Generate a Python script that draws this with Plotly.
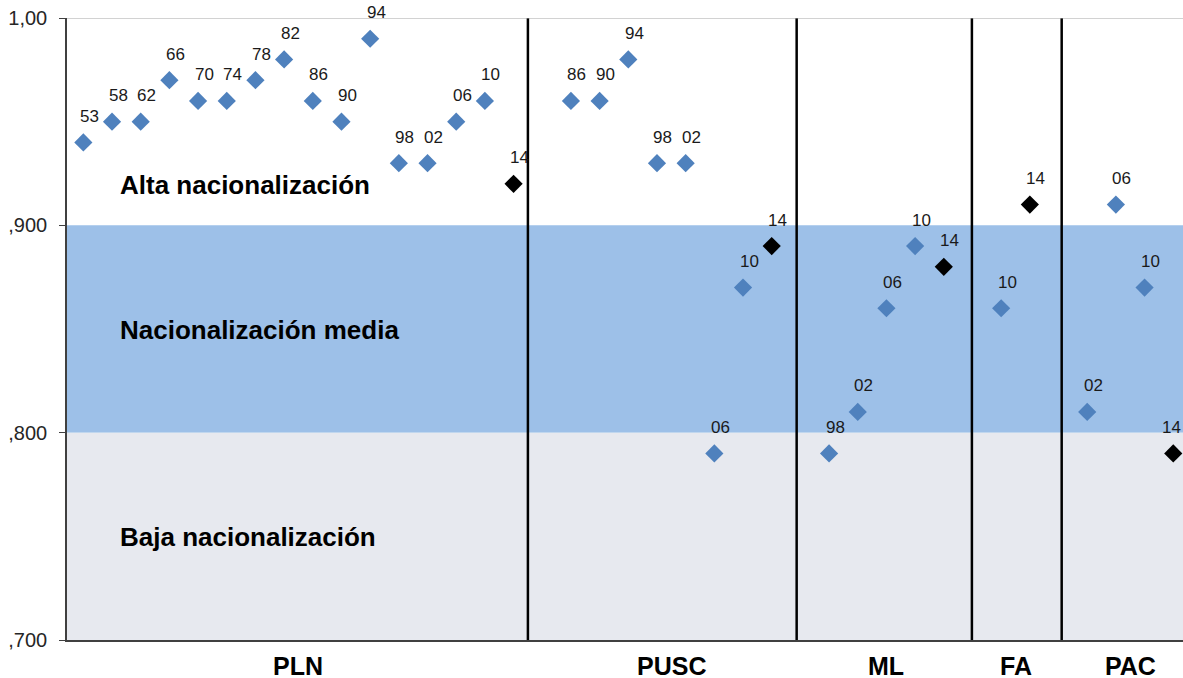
import plotly.graph_objects as go

# DATA
partidos = ['PLN', 'PUSC', 'ML', 'FA', 'PAC']

pln_anios = ['53', '58', '62', '66', '70', '74', '78', '82', '86', '90', '94', '98', '02', '06', '10', '14']
pln_valores = [0.94, 0.95, 0.95, 0.97, 0.96, 0.96, 0.97, 0.98, 0.96, 0.95, 0.99, 0.93, 0.93, 0.95, 0.96, 0.92]

pusc_anios = ['86', '90', '94', '98', '02', '06', '10', '14']
pusc_valores = [0.96, 0.96, 0.98, 0.93, 0.93, 0.79, 0.87, 0.89]

ml_anios = ['98', '02', '06', '10', '14']
ml_valores = [0.79, 0.81, 0.86, 0.89, 0.88]

fa_anios = ['10', '14']
fa_valores = [0.86, 0.91]

pac_anios = ['02', '06', '10', '14']
pac_valores = [0.81, 0.91, 0.87, 0.79]

bandas = ['Alta nacionalización', 'Nacionalización media', 'Baja nacionalización']
bandas_lim = [(0.9, 1.0), (0.8, 0.9), (0.7, 0.8)]

y_ticks = [0.7, 0.8, 0.9, 1.0]
y_ticktext = [',700', ',800', ',900', '1,00']

# separator lines between parties (x in slot units)
separadores = [15.5, 24.87, 30.98, 34.11]

grupos = [(pln_anios, pln_valores), (pusc_anios, pusc_valores), (ml_anios, ml_valores),
          (fa_anios, fa_valores), (pac_anios, pac_valores)]

FONT = 'Liberation Sans, Arial, sans-serif'
AZUL = '#4F81BD'

fig = go.Figure()

# bands
band_colors = ['rgba(255,255,255,1)', 'rgb(157,192,232)', 'rgb(231,233,239)']
for (y0, y1), col in zip(bandas_lim, band_colors):
    fig.add_shape(type='rect', xref='paper', yref='y', x0=0, x1=1, y0=y0, y1=y1,
                  fillcolor=col, line=dict(width=0), layer='below')

pos = 0
centros = []
for gi, (anios, vals) in enumerate(grupos):
    xs = list(range(pos, pos + len(anios)))
    centros.append((xs[0] + xs[-1]) / 2)
    colores = ['black' if a == '14' else AZUL for a in anios]
    fig.add_trace(go.Scatter(
        x=xs, y=vals, mode='markers',
        marker=dict(symbol='diamond', size=14, color=colores, line=dict(width=0)),
        showlegend=False, hoverinfo='skip', cliponaxis=False))
    for x, y, a in zip(xs, vals, anios):
        # last label sits against the right edge
        last = gi == len(grupos) - 1 and x == xs[-1]
        fig.add_annotation(x=x, y=y, text=a, showarrow=False, xshift=-2 if last else 6, yshift=26,
                           font=dict(family=FONT, size=17, color='#1a1a1a'))
    pos += len(anios) + 1

for sx in separadores:
    fig.add_shape(type='line', xref='x', yref='y', x0=sx, x1=sx, y0=0.7, y1=1.0,
                  line=dict(color='black', width=2.5))

# top border line
fig.add_shape(type='line', xref='paper', yref='y', x0=0, x1=1, y0=1.0, y1=1.0,
              line=dict(color='#a6a6a6', width=1))

# band labels
for txt, (y0, y1) in zip(bandas, bandas_lim):
    fig.add_annotation(x=1.21, y=(y0 + y1) / 2 if txt != 'Alta nacionalización' else 0.9194,
                       xanchor='left', yanchor='middle', text='<b>' + txt + '</b>',
                       showarrow=False, yshift=-1 if txt != 'Alta nacionalización' else 0,
                       font=dict(family=FONT, size=26, color='black'))

# party labels
for p, c in zip(partidos, centros):
    fig.add_annotation(x=c, y=0, xref='x', yref='paper', yanchor='middle', yshift=-26,
                       text='<b>' + p + '</b>', showarrow=False,
                       font=dict(family=FONT, size=25, color='black'))

fig.update_layout(
    width=1183, height=678,
    margin=dict(l=67, r=0, t=18, b=38),
    plot_bgcolor='white', paper_bgcolor='white',
    xaxis=dict(range=[-0.57, 38.34], showgrid=False, zeroline=False, showticklabels=False,
               showline=True, linecolor='#404040', linewidth=1.5, ticks=''),
    yaxis=dict(range=[0.7, 1.0], showgrid=False, zeroline=False,
               tickvals=y_ticks, ticktext=y_ticktext, ticks='outside', ticklen=6,
               tickcolor='#404040', tickwidth=1, ticklabelstandoff=8,
               showline=True, linecolor='#404040', linewidth=1.5,
               tickfont=dict(family=FONT, size=20, color='#262626')),
)

fig.write_html('out.html', config={'displayModeBar': False},
               post_script="document.body.style.margin='0';document.body.style.overflow='hidden';")
